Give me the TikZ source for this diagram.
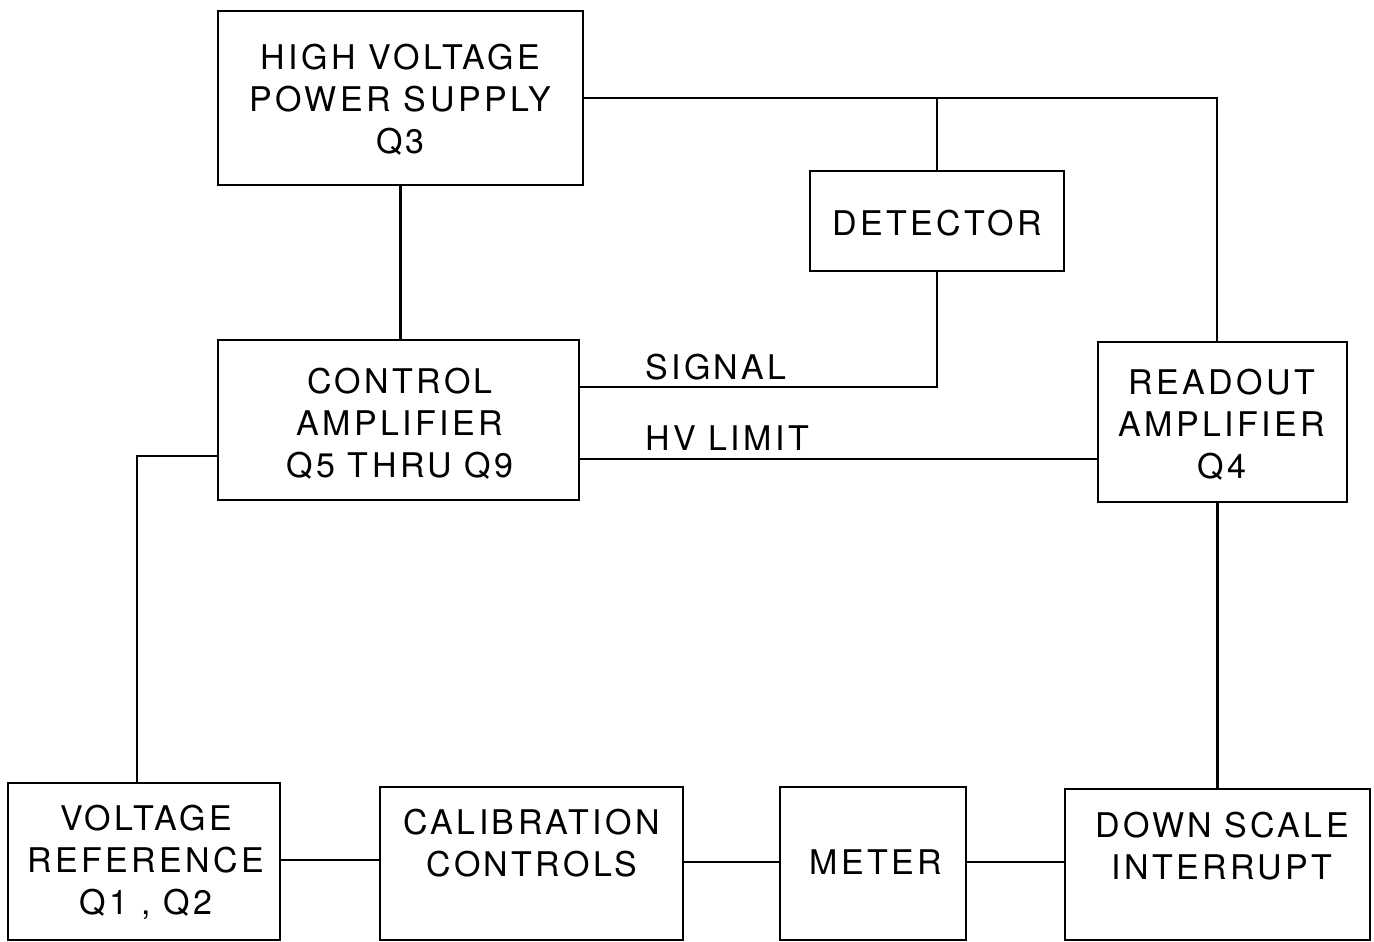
\documentclass[tikz,border=0pt]{standalone}
\usepackage{fontspec}
\setmainfont{TeX Gyre Heros}[LetterSpace=10]
\begin{document}
\begin{tikzpicture}[x=1pt,y=-1pt,
  blk/.style={draw,line width=2.3pt,inner sep=0pt,align=center},
  txt/.style={inner sep=0pt,align=center,font=\fontsize{34}{42}\selectfont},
  wire/.style={line width=2.3pt}]
\useasboundingbox (0,0) rectangle (1374,942);
% boxes
\node[blk,minimum width=365pt,minimum height=174pt] (hv) at (400.5,98) {};
\node[txt] (hvt) at (400.5,100) {HIGH VOLTAGE\\POWER SUPPLY\\Q3};
\node[blk,minimum width=254pt,minimum height=100pt] (det) at (937,221) {};
\node[txt] (dett) at (937,223) {DETECTOR};
\node[blk,minimum width=361pt,minimum height=160pt] (ctrl) at (398.5,420) {};
\node[txt] (ctrlt) at (400,424) {CONTROL\\AMPLIFIER\\Q5 THRU Q9};
\node[blk,minimum width=249pt,minimum height=160pt] (ro) at (1222.5,422) {};
\node[txt] (rot) at (1222,425) {READOUT\\AMPLIFIER\\Q4};
\node[blk,minimum width=272pt,minimum height=157pt] (vref) at (144,861.5) {};
\node[txt] (vreft) at (146,862) {VOLTAGE\\REFERENCE\\Q1 , Q2};
\node[blk,minimum width=303pt,minimum height=153pt] (cal) at (531.5,863.5) {};
\node[txt] (calt) at (532,843) {CALIBRATION\\CONTROLS};
\node[blk,minimum width=186pt,minimum height=153pt] (met) at (873,863.5) {};
\node[txt] (mett) at (876,862) {METER};
\node[blk,minimum width=305pt,minimum height=151pt] (ds) at (1217.5,864.5) {};
\node[txt] (dst) at (1222,846) {DOWN SCALE\\INTERRUPT};
% helper coordinates
\coordinate (tr) at (1217,98);
\coordinate (sigy) at (0,387);
\coordinate (hvly) at (0,459);
\coordinate (lx) at (137,456);
\coordinate (bot1) at (0,860);
\coordinate (bot2) at (0,862);
% connectors
\draw[wire] (hv.east) -- (hv.east -| tr) -- (ro.north -| tr);
\draw[wire] (det.north) -- (det.north |- hv.east);
\draw[wire] (hv.south) -- (hv.south |- ctrl.north);
\draw[wire] (det.south) |- (ctrl.east |- sigy);
\draw[wire] (ctrl.east |- hvly) -- (ro.west |- hvly);
\draw[wire] (ctrl.west |- lx) -- (lx) -- (lx |- vref.north);
\draw[wire] (ds.north) -- (ds.north |- ro.south);
\draw[wire] (vref.east |- bot1) -- (cal.west |- bot1);
\draw[wire] (cal.east |- bot2) -- (met.west |- bot2);
\draw[wire] (met.east |- bot2) -- (ds.west |- bot2);
% labels
\node[txt,anchor=west] (sigl) at (645,367) {SIGNAL};
\node[txt,anchor=west] (hvll) at (645,438) {HV LIMIT};
\end{tikzpicture}
\end{document}
